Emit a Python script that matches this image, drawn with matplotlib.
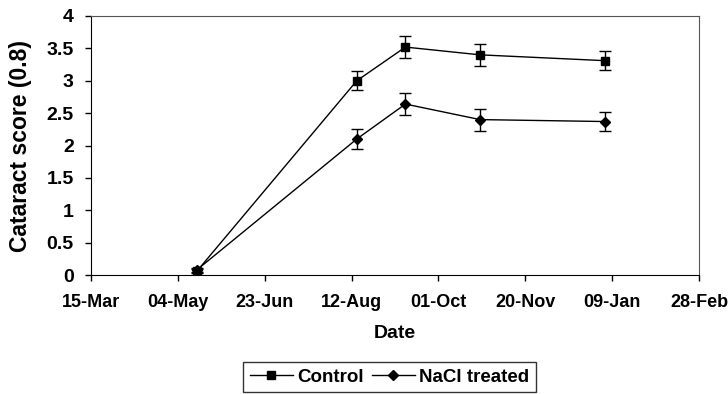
import matplotlib
matplotlib.use("Agg")
import matplotlib.pyplot as plt
import datetime as dt

plt.rcParams['font.family'] = ['Liberation Sans', 'DejaVu Sans']

dates = ["2005-05-15", "2005-08-15", "2005-09-12", "2005-10-25", "2006-01-05"]
control = [0.06, 3.00, 3.52, 3.40, 3.31]
control_err = [0.03, 0.15, 0.17, 0.17, 0.15]
nacl = [0.08, 2.10, 2.64, 2.40, 2.37]
nacl_err = [0.03, 0.16, 0.17, 0.17, 0.14]
tick_dates = ["2005-03-15", "2005-05-04", "2005-06-23", "2005-08-12",
              "2005-10-01", "2005-11-20", "2006-01-09", "2006-02-28"]
tick_labels = ["15-Mar", "04-May", "23-Jun", "12-Aug", "01-Oct", "20-Nov", "09-Jan", "28-Feb"]
y_ticks = [0, 0.5, 1, 1.5, 2, 2.5, 3, 3.5, 4]
y_labels = ["0", "0.5", "1", "1.5", "2", "2.5", "3", "3.5", "4"]

x = [dt.datetime.strptime(d, "%Y-%m-%d") for d in dates]
xt = [dt.datetime.strptime(d, "%Y-%m-%d") for d in tick_dates]

fig = plt.figure(figsize=(7.28, 3.94), dpi=100)
ax = fig.add_axes([91/728, 1-275/394, (699-91)/728, (275-16)/394])

l1, = ax.plot(x, control, color='black', lw=1.0, marker='s', ms=5.5, label='Control')
ax.errorbar(x, control, yerr=control_err, fmt='none', ecolor='black',
            capsize=4, elinewidth=1.0, capthick=1.0)
l2, = ax.plot(x, nacl, color='black', lw=1.0, marker='D', ms=5, label='NaCl treated')
ax.errorbar(x, nacl, yerr=nacl_err, fmt='none', ecolor='black',
            capsize=4, elinewidth=1.0, capthick=1.0)

ax.set_xlim(xt[0], xt[-1])
ax.set_ylim(0, 4)
ax.set_xticks(xt)
ax.set_xticklabels(tick_labels, fontsize=13, fontweight='bold')
ax.set_yticks(y_ticks)
ax.set_yticklabels(y_labels, fontsize=14, fontweight='bold')
ax.tick_params(axis='both', direction='out', length=4.5, width=1)
ax.tick_params(axis='x', pad=9)
ax.tick_params(axis='y', pad=8)
for s in ['top', 'right']:
    ax.spines[s].set_color('#555555')
for s in ['left', 'bottom']:
    ax.spines[s].set_color('black')
ax.set_xlabel('Date', fontsize=14, fontweight='bold', labelpad=10)
ax.set_ylabel('Cataract score (0.8)', fontsize=16.5, fontweight='bold', labelpad=10)

leg = fig.legend([l1, l2], ['Control', 'NaCl treated'], loc='upper left',
                 bbox_to_anchor=(243/728, 1-362/394), ncol=2,
                 frameon=True, fancybox=False, edgecolor='black',
                 prop={'weight': 'bold', 'size': 13.5}, handlelength=2.3, handletextpad=0.25,
                 columnspacing=0.4, borderpad=0.35, borderaxespad=0)
leg.get_frame().set_linewidth(1.0)

fig.savefig('out.png', dpi=100)
